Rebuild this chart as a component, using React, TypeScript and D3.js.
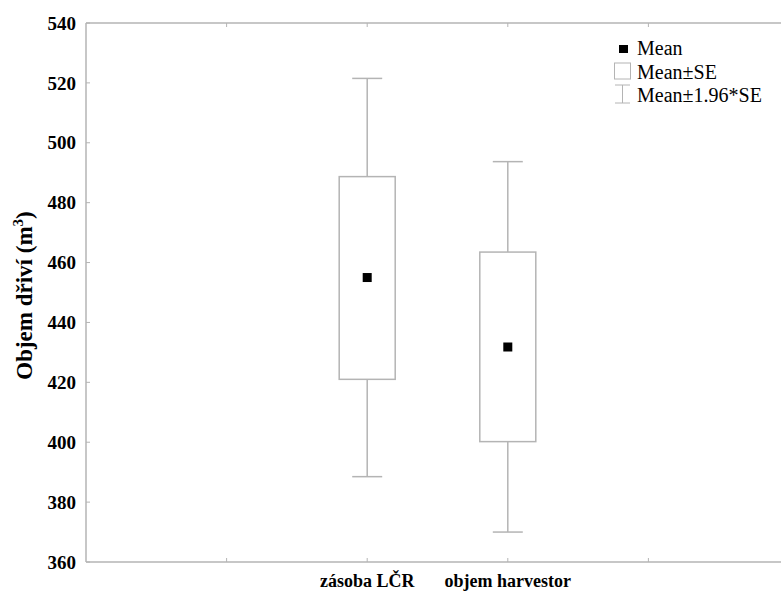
import * as React from "react"
import { scaleLinear } from "d3"

const categories = ["zásoba LČR", "objem harvestor"]
const means = [455, 431.8]
const seLow = [421, 400.2]
const seHigh = [488.7, 463.5]
const ciLow = [388.5, 370]
const ciHigh = [521.5, 493.7]
const yTicks = [360, 380, 400, 420, 440, 460, 480, 500, 520, 540]
const xTickPos = [1, 2, 3, 4]
const legendItems = ["Mean", "Mean±SE", "Mean±1.96*SE"]

export default function App() {
  const width = 781
  const height = 591
  const margin = { top: 23, left: 86, bottom: 562 }
  const gray = "#b4b4b4"
  const serif = "'Liberation Serif', 'Times New Roman', serif"

  const y = scaleLinear().domain([360, 540]).range([margin.bottom, margin.top])
  const x = scaleLinear().domain([0, 5]).range([margin.left, 789])

  const boxW = 56
  const capW = 30

  return (
    <svg
      width={width}
      height={height}
      style={{ position: "absolute", left: 0, top: 0, background: "#fff" }}
    >
      <rect width={width} height={height} fill="#fff" />
      {/* frame */}
      <line x1={margin.left} x2={width} y1={margin.top} y2={margin.top} stroke={gray} strokeWidth={1.5} />
      <line x1={margin.left} x2={margin.left} y1={margin.top} y2={margin.bottom} stroke={gray} strokeWidth={1.5} />
      <line x1={margin.left} x2={width} y1={margin.bottom} y2={margin.bottom} stroke={gray} strokeWidth={1.5} />

      {/* y ticks */}
      {yTicks.map((t) => (
        <g key={t}>
          <line x1={margin.left} x2={margin.left + 4} y1={y(t)} y2={y(t)} stroke={gray} />
          <text
            x={76}
            y={y(t)}
            dy="0.35em"
            textAnchor="end"
            fontFamily={serif}
            fontWeight="bold"
            fontSize={19}
          >
            {t}
          </text>
        </g>
      ))}

      {/* x ticks */}
      {xTickPos.map((p) => (
        <g key={p}>
          <line x1={x(p)} x2={x(p)} y1={margin.bottom} y2={margin.bottom - 4} stroke={gray} />
          <line x1={x(p)} x2={x(p)} y1={margin.top} y2={margin.top + 4} stroke={gray} />
        </g>
      ))}

      {/* boxes */}
      {categories.map((c, i) => {
        const cx = x(i + 2)
        return (
          <g key={c}>
            <line x1={cx} x2={cx} y1={y(ciHigh[i])} y2={y(seHigh[i])} stroke={gray} strokeWidth={1.5} />
            <line x1={cx} x2={cx} y1={y(seLow[i])} y2={y(ciLow[i])} stroke={gray} strokeWidth={1.5} />
            <line x1={cx - capW / 2} x2={cx + capW / 2} y1={y(ciHigh[i])} y2={y(ciHigh[i])} stroke={gray} strokeWidth={1.5} />
            <line x1={cx - capW / 2} x2={cx + capW / 2} y1={y(ciLow[i])} y2={y(ciLow[i])} stroke={gray} strokeWidth={1.5} />
            <rect
              x={cx - boxW / 2}
              y={y(seHigh[i])}
              width={boxW}
              height={y(seLow[i]) - y(seHigh[i])}
              fill="#fff"
              stroke={gray}
              strokeWidth={1.5}
            />
            <rect x={cx - 4.5} y={y(means[i]) - 4.5} width={9} height={9} fill="#000" />
            <text
              x={cx}
              y={587}
              textAnchor="middle"
              fontFamily={serif}
              fontWeight="bold"
              fontSize={18}
            >
              {c}
            </text>
          </g>
        )
      })}

      {/* y title */}
      <text
        transform={`translate(32, ${(margin.top + margin.bottom) / 2 + 3}) rotate(-90)`}
        textAnchor="middle"
        fontFamily={serif}
        fontWeight="bold"
        fontSize={23}
      >
        Objem dřiví (m<tspan dy="-9" fontSize={15}>3</tspan>
        <tspan dy="9">)</tspan>
      </text>

      {/* legend */}
      <g fontFamily={serif} fontSize={20}>
        <rect x={619} y={45} width={9} height={8} fill="#000" />
        <rect x={614.5} y={63} width={16} height={16} fill="#fff" stroke={gray} />
        <line x1={615} x2={630} y1={85} y2={85} stroke={gray} />
        <line x1={622.5} x2={622.5} y1={85} y2={103} stroke={gray} />
        <line x1={615} x2={630} y1={103} y2={103} stroke={gray} />
        {legendItems.map((l, i) => (
          <text key={l} x={637} y={55 + i * 23.5}>
            {l}
          </text>
        ))}
      </g>
    </svg>
  )
}
